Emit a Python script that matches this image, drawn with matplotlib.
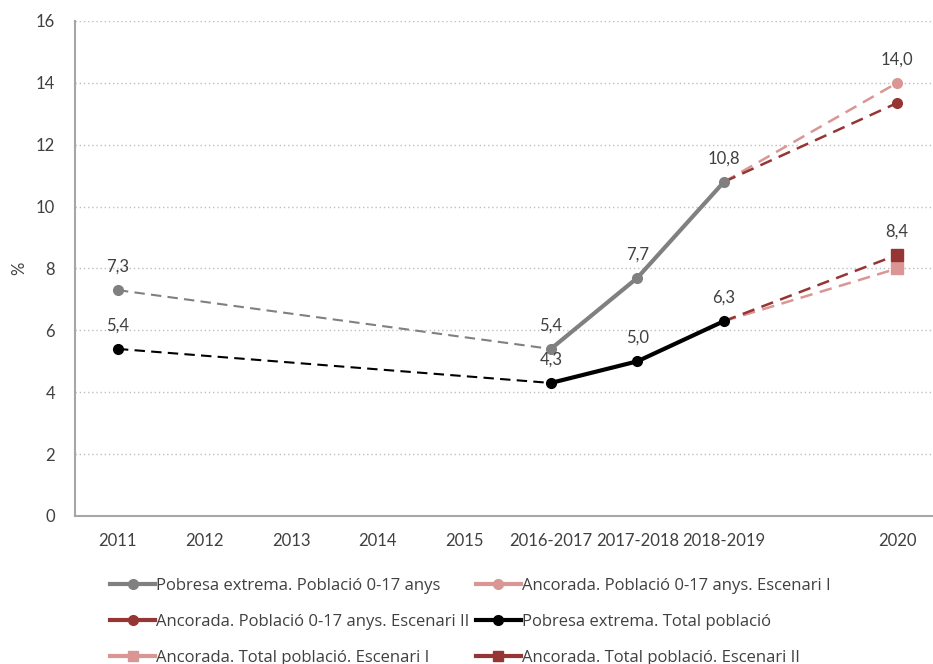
import matplotlib.pyplot as plt
from matplotlib.lines import Line2D

plt.rcParams['font.family'] = ['Lato', 'DejaVu Sans']

categories = ['2011', '2012', '2013', '2014', '2015', '2016-2017', '2017-2018', '2018-2019', '', '2020']

# observed series (positions are category indices)
child_x = [5, 6, 7]
child_y = [5.4, 7.7, 10.8]
total_x = [5, 6, 7]
total_y = [4.3, 5.0, 6.3]

# dashed links 2011 -> 2016-2017
child_link_x = [0, 5]
child_link_y = [7.3, 5.4]
total_link_x = [0, 5]
total_link_y = [5.4, 4.3]

# anchored projections 2018-2019 -> 2020
proj_x = [7, 9]
child_esc1 = [10.8, 14.0]
child_esc2 = [10.8, 13.35]
total_esc1 = [6.3, 8.0]
total_esc2 = [6.3, 8.44]

labels = [
    (0, 7.3, '7,3'), (0, 5.4, '5,4'),
    (5, 5.4, '5,4'), (5, 4.3, '4,3'),
    (6, 7.7, '7,7'), (6, 5.0, '5,0'),
    (7, 10.8, '10,8'), (7, 6.3, '6,3'),
    (9, 14.0, '14,0'), (9, 8.44, '8,4'),
]

GRAY = '#808080'
PINK = '#DA9694'
DARK = '#963634'
TXT = '#404040'

fig = plt.figure(figsize=(9.33, 6.64), dpi=100)
ax = fig.add_axes([0.080, 0.2229, 0.928, 0.7455])

ax.plot(child_link_x, child_link_y, color=GRAY, lw=1.5, ls=(0, (5, 3)), marker='o', ms=7, markevery=[0])
ax.plot(total_link_x, total_link_y, color='black', lw=1.5, ls=(0, (5, 3)), marker='o', ms=7, markevery=[0])

ax.plot(proj_x, child_esc1, color=PINK, lw=1.8, ls=(0, (5, 3)), marker='o', ms=7, markevery=[1])
ax.plot(proj_x, child_esc2, color=DARK, lw=1.8, ls=(0, (5, 3)), marker='o', ms=7, markevery=[1])
ax.plot(proj_x, total_esc1, color=PINK, lw=1.8, ls=(0, (5, 3)), marker='s', ms=8, markevery=[1])
ax.plot(proj_x, total_esc2, color=DARK, lw=1.8, ls=(0, (5, 3)), marker='s', ms=8, markevery=[1])

ax.plot(child_x, child_y, color=GRAY, lw=3, marker='o', ms=7)
ax.plot(total_x, total_y, color='black', lw=3, marker='o', ms=7)

for x, y, t in labels:
    ax.annotate(t, (x, y), xytext=(0, 11), textcoords='offset points',
                ha='center', va='bottom', fontsize=12, color=TXT)

ax.set_xlim(-0.5, 9.5)
ax.set_ylim(0, 16)
ax.set_yticks(range(0, 17, 2))
ax.set_xticks(range(len(categories)))
ax.set_xticklabels(categories)
ax.tick_params(axis='both', length=0, labelsize=12, labelcolor=TXT)
ax.tick_params(axis='x', pad=12)
ax.tick_params(axis='y', pad=14)
ax.set_ylabel('%', fontsize=12, color=TXT, labelpad=6)
ax.grid(axis='y', color='#BFBFBF', ls=(0, (1, 2)), lw=1)
ax.set_axisbelow(True)
for s in ['top', 'right']:
    ax.spines[s].set_visible(False)
for s in ['left', 'bottom']:
    ax.spines[s].set_color('#A6A6A6')
    ax.spines[s].set_linewidth(1.5)

handles = [
    Line2D([], [], color=GRAY, lw=3, marker='o', ms=7),
    Line2D([], [], color=DARK, lw=3, marker='o', ms=7),
    Line2D([], [], color=PINK, lw=3, marker='s', ms=7),
    Line2D([], [], color=PINK, lw=3, marker='o', ms=7),
    Line2D([], [], color='black', lw=3, marker='o', ms=7),
    Line2D([], [], color=DARK, lw=3, marker='s', ms=7),
]
names = [
    'Pobresa extrema. Població 0-17 anys',
    'Ancorada. Població 0-17 anys. Escenari II',
    'Ancorada. Total població. Escenari I',
    'Ancorada. Població 0-17 anys. Escenari I',
    'Pobresa extrema. Total població',
    'Ancorada. Total població. Escenari II',
]
fig.legend(handles, names, ncol=2, loc='upper left', bbox_to_anchor=(0.118, 0.130),
           frameon=False, labelcolor=TXT, handlelength=2.7,
           handletextpad=0.05, columnspacing=0.4, labelspacing=1.2,
           borderaxespad=0, borderpad=0, prop={'family': 'Open Sans', 'size': 12})

fig.savefig('out.png', dpi=100)
